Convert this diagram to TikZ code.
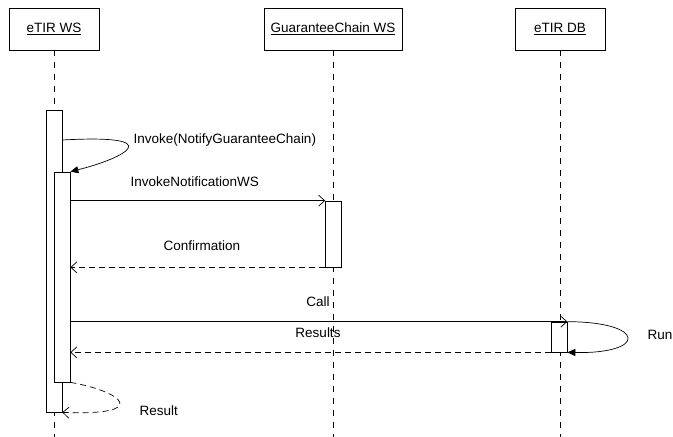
\documentclass[tikz,border=0pt]{standalone}
\usepackage{fontspec}
\setmainfont{Liberation Sans}
\usetikzlibrary{arrows.meta}

\begin{document}
\begin{tikzpicture}[x=1pt,y=-1pt,line width=0.7pt,font=\fontsize{13.5}{16}\selectfont]
	\tikzstyle{object} = [draw,inner sep=0pt,minimum height=42pt]
	\tikzstyle{activation} = [draw,fill=white,inner sep=0pt,minimum width=16pt]
	\tikzstyle{lifeline} = [dash pattern=on 6pt off 6pt]
	\tikzstyle{call} = [-{Straight Barb[length=6pt,width=11pt]}]
	\tikzstyle{reply} = [dash pattern=on 6pt off 4pt,-{Straight Barb[length=6pt,width=11pt]}]
	\tikzstyle{selfcall} = [-{Triangle[length=8pt,width=7pt]}]
	\useasboundingbox (0,0) rectangle (673,437);
	% objects
	\node[object,minimum width=90pt] (ws) at (54,29) {\underline{eTIR WS}};
	\node[object,minimum width=138pt] (gc) at (333,29) {\underline{GuaranteeChain WS}};
	\node[object,minimum width=90pt] (db) at (560,29) {\underline{eTIR DB}};
	% lifelines
	\foreach \o in {ws,gc,db}
		\draw[lifeline] (\o.south) -- (\o.south |- 0,437);
	% activations
	\node[activation,minimum height=302pt] (wsbar) at (54,261) {};
	\node[activation,minimum height=210pt] (inbar) at (62,277) {};
	\node[activation,minimum height=66pt] (gcbar) at (333.5,234) {};
	\node[activation,minimum height=30pt] (dbbar) at (559,337) {};
	\coordinate (invoke) at (wsbar.east |- 0,140);
	\coordinate (notify) at (inbar.east |- gcbar.north);
	\coordinate (confirm) at (inbar.east |- gcbar.south);
	\coordinate (call) at (inbar.east |- dbbar.north);
	\coordinate (results) at (inbar.east |- dbbar.south);
	\coordinate (result) at (wsbar.south east);
	% messages
	\draw[selfcall] (invoke) .. controls (170,134) and (125,158) .. (inbar.north east);
	\node[anchor=west] (invokelbl) at (130,140) {Invoke(NotifyGuaranteeChain)};
	\draw[call] (notify) -- (gcbar.north west);
	\node[anchor=west] (notifylbl) at (127,182) {InvokeNotificationWS};
	\draw[reply] (gcbar.south west) -- (confirm);
	\node (confirmlbl) at (202,246) {Confirmation};
	\draw[call] (call) -- (dbbar.north east);
	\node (calllbl) at (318,302) {Call};
	\draw[selfcall] (dbbar.north east) .. controls (647,322) and (647,354) .. (dbbar.south east);
	\node (runlbl) at (660,335) {Run};
	\draw[reply] (dbbar.south west) -- (results);
	\node (resultslbl) at (318,333) {Results};
	\draw[reply] (inbar.south east) .. controls (125,392) and (150,416) .. (result);
	\node[anchor=west] (resultlbl) at (136,411) {Result};
\end{tikzpicture}
\end{document}
